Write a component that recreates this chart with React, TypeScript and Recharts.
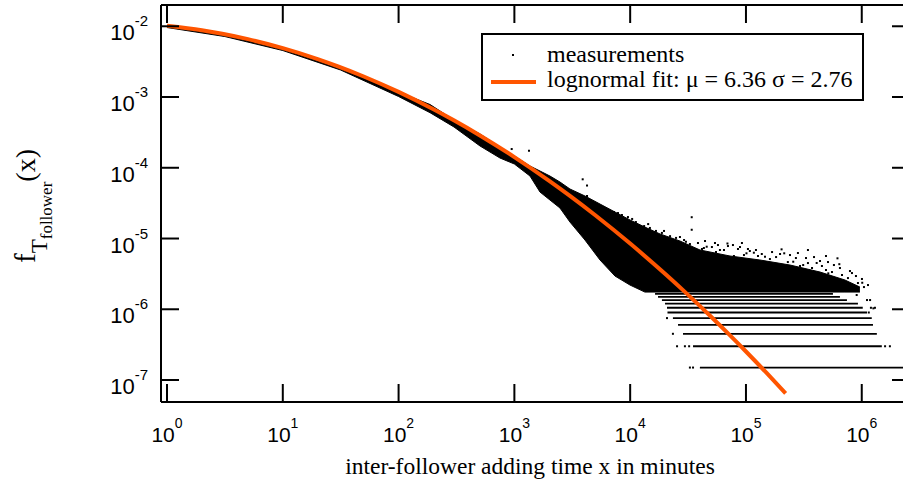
import React from 'react';
import { ComposedChart, XAxis, YAxis, Line, Area, Scatter, ReferenceLine, Legend } from 'recharts';

// ---------- axis ranges & ticks ----------
const X_MIN = 0.8875;
const X_MAX = 2.61e6;
const Y_MIN = 4.89e-8;
const Y_MAX = 0.01998;

const xTicks = [1, 10, 100, 1000, 10000, 100000, 1000000];
const xTickExp = ['0', '1', '2', '3', '4', '5', '6'];
const yTicks = [1e-7, 1e-6, 1e-5, 1e-4, 1e-3, 1e-2];
const yTickExp = ['-7', '-6', '-5', '-4', '-3', '-2'];

// ---------- lognormal fit curve ----------
const fitX = [1, 2, 3, 5, 10, 20, 30, 50, 100, 200, 300, 500, 1000, 2000, 3000, 5000, 10000, 20000, 30000, 50000, 70000, 100000, 150000, 220000];
const fitY = [0.01016, 0.00878, 0.00783, 0.00657, 0.00491, 0.00344, 0.002712, 0.00195, 0.00118, 6.71e-4, 4.684e-4, 2.887e-4, 1.417e-4, 6.53e-5, 4.033e-5, 2.13e-5, 8.48e-6, 3.17e-6, 1.731e-6, 7.83e-7, 4.56e-7, 2.53e-7, 1.268e-7, 6.48e-8];

// ---------- dense band of measurements (lower / upper envelope) ----------
const bandX = [1, 3.16, 10, 31.6, 100, 187, 301, 505, 751, 1000, 1364, 1664, 2029, 2475, 3020, 4070, 5490, 7390, 9960, 13400, 18100, 26900, 40100, 72800, 132000, 240000, 436000, 716000, 964000];
const bandHigh = [0.01025, 0.00777, 0.00501, 0.002698, 0.001177, 7.83e-4, 4.73e-4, 3.0e-4, 1.965e-4, 1.466e-4, 1.058e-4, 9.0e-5, 7.64e-5, 6.29e-5, 5.01e-5, 3.99e-5, 3.07e-5, 2.37e-5, 1.83e-5, 1.45e-5, 1.16e-5, 9.22e-6, 6.88e-6, 5.66e-6, 4.97e-6, 4.22e-6, 3.36e-6, 2.59e-6, 2.06e-6];
const bandLow = [0.0096, 0.00716, 0.00454, 0.002407, 0.001016, 6.0e-4, 3.77e-4, 2.03e-4, 1.373e-4, 1.13e-4, 7.64e-5, 4.54e-5, 3.5e-5, 2.7e-5, 1.71e-5, 9.52e-6, 4.97e-6, 2.95e-6, 2.2e-6, 1.75e-6, 1.75e-6, 1.75e-6, 1.75e-6, 1.75e-6, 1.75e-6, 1.75e-6, 1.75e-6, 1.75e-6, 1.75e-6];

// ---------- discrete-count stripes (rows of measurements) ----------
const stripeLevel = [1.5e-7, 3.0e-7, 4.5e-7, 6.0e-7, 7.5e-7, 9.0e-7, 1.05e-6, 1.2e-6, 1.35e-6, 1.5e-6, 1.65e-6];
const stripeStart = [40000, 34900, 28600, 25900, 23400, 21000, 20800, 20000, 18800, 17400, 16400];
const stripeEnd = [2.61e6, 1.49e6, 1.35e6, 1.25e6, 1.22e6, 1.11e6, 1.02e6, 9.27e5, 7.45e5, 6.48e5, 5.64e5];

// ---------- individual measurements (outliers, fringe, stripe ends) ----------
const outlierX = [948, 1337, 3890, 4240, 4240, 4070, 5560, 6700, 12600, 21200, 30300, 34000, 34000, 43300, 45800, 59600, 69200, 77200, 101000, 117000, 146000, 203000, 214000, 256000, 312000, 408000, 514000, 617000, 640000, 904000, 1010000, 1110000, 1180000, 1260000];
const outlierY = [1.84e-4, 1.74e-4, 6.87e-5, 5.61e-5, 3.99e-5, 3.31e-5, 2.47e-5, 2.08e-5, 1.41e-5, 1.02e-5, 9.0e-6, 2.0e-5, 1.33e-5, 7.34e-6, 7.66e-6, 6.88e-6, 8.5e-6, 8.09e-6, 6.18e-6, 6.3e-6, 5.53e-6, 7.03e-6, 6.18e-6, 4.7e-6, 4.22e-6, 4.51e-6, 3.22e-6, 5.25e-6, 4.34e-6, 1.59e-6, 2.37e-6, 1.35e-6, 1.35e-6, 1.03e-6];

const fringeX = [5270, 6180, 7250, 8490, 9570, 11200, 13200, 14800, 16700, 18800, 22100, 24900, 29200, 32800, 38500, 41700, 50800, 55100, 57300, 64600, 78700, 85300, 96100, 108000, 113000, 127000, 137000, 149000, 161000, 182000, 205000, 230000, 270000, 293000, 317000, 343000, 372000, 419000, 453000, 491000, 553000, 598000, 675000, 731000, 760000, 823000, 927000, 1045000];
const fringeY = [2.88e-5, 2.61e-5, 2.37e-5, 2.15e-5, 2.01e-5, 1.71e-5, 1.5e-5, 1.41e-5, 1.28e-5, 1.2e-5, 1.08e-5, 1.02e-5, 9.52e-6, 8.36e-6, 8.64e-6, 7.11e-6, 7.58e-6, 6.44e-6, 8.09e-6, 6.88e-6, 5.66e-6, 7.11e-6, 5.84e-6, 6.66e-6, 4.97e-6, 5.66e-6, 6.04e-6, 4.65e-6, 5.13e-6, 5.47e-6, 4.22e-6, 4.65e-6, 5.3e-6, 4.09e-6, 3.47e-6, 4.5e-6, 3.83e-6, 3.15e-6, 4.09e-6, 3.59e-6, 3.36e-6, 2.59e-6, 3.05e-6, 2.35e-6, 2.76e-6, 3.25e-6, 2.35e-6, 2.06e-6];

const fringe2X = [44300, 54000, 69900, 88800, 104000, 122000, 168000, 197000, 240000, 281000, 330000, 387000, 436000, 511000, 575000, 648000, 791000, 891000, 1004000, 1132000, 26900, 19600, 14300, 10400, 7850, 92300, 343000, 491000];
const fringe2Y = [9.22e-6, 8.64e-6, 7.83e-6, 7.58e-6, 7.11e-6, 6.88e-6, 6.44e-6, 6.04e-6, 5.84e-6, 6.24e-6, 5.3e-6, 5.47e-6, 4.81e-6, 4.65e-6, 4.22e-6, 3.83e-6, 3.47e-6, 2.95e-6, 2.68e-6, 2.2e-6, 1.05e-5, 1.28e-5, 1.6e-5, 1.89e-5, 2.29e-5, 8.64e-6, 6.88e-6, 5.66e-6];

const edgeDotX = [32800, 34900, 25400, 29700, 32300, 1590000, 1750000, 23400, 20800, 1200000, 1300000, 1150000];
const edgeDotY = [1.5e-7, 1.5e-7, 3.0e-7, 3.0e-7, 3.0e-7, 3.0e-7, 3.0e-7, 4.5e-7, 7.5e-7, 1.05e-6, 1.05e-6, 9.0e-7];

// ---------- layout ----------
const CHART_W = 920;
const CHART_H = 496;
const PLOT_RIGHT = 910;
const PLOT_LEFT = 161;
const PLOT_TOP = 5;
const PLOT_BOTTOM = 402;
const TICK_LEN = 18;
const FIT_COLOR = '#ff5500';
const SANS = '"Liberation Sans", Arial, sans-serif';
const SERIF = '"Liberation Serif", "Times New Roman", serif';

const fitData = fitX.map((x, i) => ({ x, y: fitY[i] }));
const bandData = bandX.map((x, i) => ({ x, range: [bandLow[i], bandHigh[i]] }));
const stripeData = stripeLevel.map((lv, i) => [
  { x: stripeStart[i], y: lv },
  { x: stripeEnd[i], y: lv },
]);
const pointData = [
  ...outlierX.map((x, i) => ({ x, y: outlierY[i] })),
  ...fringeX.map((x, i) => ({ x, y: fringeY[i] })),
  ...fringe2X.map((x, i) => ({ x, y: fringe2Y[i] })),
  ...edgeDotX.map((x, i) => ({ x, y: edgeDotY[i] })),
];

const Dot = (props: any) => {
  const { cx, cy } = props;
  if (cx == null || cy == null) return null;
  return <rect x={cx - 1} y={cy - 1} width={2} height={2} fill="#000" />;
};

const XTick = (props: any) => {
  const { x, payload } = props;
  let idx = xTicks.indexOf(payload.value);
  if (idx < 0) idx = props.index ?? 0;
  return (
    <g>
      <line x1={x} x2={x} y1={PLOT_BOTTOM} y2={PLOT_BOTTOM - TICK_LEN} stroke="#000" strokeWidth={2} />
      <line x1={x} x2={x} y1={PLOT_TOP} y2={PLOT_TOP + TICK_LEN} stroke="#000" strokeWidth={2} />
      <text x={x} y={442} textAnchor="middle" fontFamily={SANS} fontSize={21} fill="#000">
        <tspan>10</tspan>
        <tspan dy={-14} fontSize={14}>{xTickExp[idx]}</tspan>
      </text>
    </g>
  );
};

const YTick = (props: any) => {
  const { y, payload } = props;
  let idx = yTicks.indexOf(payload.value);
  if (idx < 0) idx = props.index ?? 0;
  return (
    <g>
      <line x1={PLOT_LEFT} x2={PLOT_LEFT + TICK_LEN} y1={y} y2={y} stroke="#000" strokeWidth={2} />
      <line x1={PLOT_RIGHT} x2={PLOT_RIGHT - TICK_LEN} y1={y} y2={y} stroke="#000" strokeWidth={2} />
      <text x={148} y={y + 14} textAnchor="end" fontFamily={SANS} fontSize={22} fill="#000">
        <tspan>10</tspan>
        <tspan dy={-14} fontSize={15}>{yTickExp[idx]}</tspan>
      </text>
    </g>
  );
};

const XTitle = () => (
  <text x={530} y={474} textAnchor="middle" fontFamily={SERIF} fontSize={23.5} fill="#000">
    inter-follower adding time x in minutes
  </text>
);

const YTitle = () => (
  <text transform="rotate(-90)" x={-263} y={35} textAnchor="start" fontFamily={SERIF} fill="#000">
    <tspan fontSize={29}>f</tspan>
    <tspan fontSize={23} dy={12}>T</tspan>
    <tspan fontSize={17} dy={5}>follower</tspan>
    <tspan fontSize={28} dy={-17}>(x)</tspan>
  </text>
);

const LegendBox = () => (
  <svg width={383} height={68} style={{ display: 'block' }}>
    <rect x={1} y={1} width={381} height={66} fill="#fff" stroke="#000" strokeWidth={2} />
    <rect x={31} y={21} width={2} height={2} fill="#000" />
    <line x1={10} x2={55} y1={49} y2={49} stroke={FIT_COLOR} strokeWidth={4} />
    <text x={66} y={28.5} fontFamily={SERIF} fontSize={24} fill="#000">measurements</text>
    <text x={66} y={53.5} fontFamily={SERIF} fontSize={24} fill="#000">lognormal fit: μ = 6.36 σ = 2.76</text>
  </svg>
);

export default function App() {
  return (
    <div style={{ position: 'absolute', left: 0, top: 0, width: 903, height: 496, overflow: 'hidden', background: '#fff' }}>
      <ComposedChart
        width={CHART_W}
        height={CHART_H}
        margin={{ top: PLOT_TOP, right: CHART_W - PLOT_RIGHT, bottom: 0, left: 0 }}
      >
        <XAxis
          dataKey="x"
          type="number"
          scale="log"
          domain={[X_MIN, X_MAX]}
          allowDataOverflow
          ticks={xTicks}
          interval={0}
          height={CHART_H - PLOT_BOTTOM}
          axisLine={{ stroke: '#000', strokeWidth: 2 }}
          tickLine={false}
          tickSize={0}
          tickMargin={0}
          tick={<XTick />}
          label={<XTitle />}
        />
        <YAxis
          type="number"
          scale="log"
          domain={[Y_MIN, Y_MAX]}
          allowDataOverflow
          ticks={yTicks}
          interval={0}
          width={PLOT_LEFT}
          axisLine={{ stroke: '#000', strokeWidth: 2 }}
          tickLine={false}
          tickSize={0}
          tickMargin={0}
          tick={<YTick />}
          label={<YTitle />}
        />
        <ReferenceLine y={Y_MAX} stroke="#000" strokeWidth={2} />
        <ReferenceLine x={X_MAX} stroke="#000" strokeWidth={2} />
        <Area
          data={bandData}
          dataKey="range"
          type="linear"
          fill="#000"
          fillOpacity={1}
          stroke="#000"
          strokeWidth={1}
          isAnimationActive={false}
          legendType="none"
        />
        {stripeData.map((d, i) => (
          <Line
            key={'s' + i}
            data={d}
            dataKey="y"
            type="linear"
            stroke="#000"
            strokeWidth={1.8}
            dot={false}
            isAnimationActive={false}
            legendType="none"
          />
        ))}
        <Scatter data={pointData} dataKey="y" shape={<Dot />} isAnimationActive={false} name="measurements" />
        <Line
          data={fitData}
          dataKey="y"
          type="monotone"
          stroke={FIT_COLOR}
          strokeWidth={4}
          dot={false}
          isAnimationActive={false}
          name="lognormal fit"
        />
        <Legend
          layout="horizontal"
          verticalAlign="middle"
          align="center"
          content={() => <LegendBox />}
          wrapperStyle={{ position: 'absolute', left: 481, top: 33, width: 383, height: 68 }}
        />
      </ComposedChart>
    </div>
  );
}
